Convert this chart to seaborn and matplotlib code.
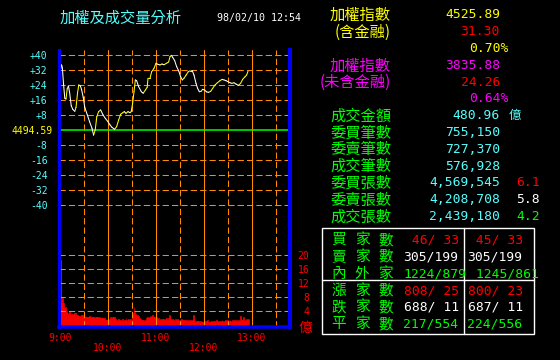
import numpy as np
import pandas as pd
import matplotlib
matplotlib.use("Agg")
import matplotlib.pyplot as plt
import matplotlib.transforms as mtransforms
from matplotlib.patches import Rectangle
from matplotlib.lines import Line2D
import seaborn as sns

# ---------------- data ----------------
# intraday index change vs. previous close (points), minutes after 9:00
price_t = [0, 2, 3, 4.5, 6, 7.5, 9, 10.5, 12, 14,
           16, 18.5, 20, 22, 23.5, 25.5, 27, 29, 31, 34.2,
           37, 40, 42, 44, 46, 48.3, 50.8, 53.8, 56.7, 60,
           62.5, 65, 68.3, 70.8, 73.3, 75.8, 78.3, 80.4, 82.5, 85,
           87.5, 89, 90.8, 92.5, 94.2, 95.8, 98.3, 101.7, 104, 106.7,
           109, 110, 112.5, 114.6, 117.5, 120, 122.5, 125, 127.5, 130,
           133.3, 135.8, 137.5, 139.2, 140.8, 143.3, 145.8, 148.3, 150.8, 152.9,
           155, 157.5, 160.4, 162.5, 165.4, 167.5, 170, 172, 174.2, 176.3,
           178.3, 180.8, 183.3, 185.8, 188.3, 190.8, 193.8, 196.7, 200, 202.5,
           205, 207.5, 210, 212.5, 215, 217.5, 220, 223, 225.8, 228.3,
           231.3, 233.3, 235]
price_v = [31, 34.7, 33, 24, 17, 16.5, 22, 23.5, 20, 13,
           11, 10, 12, 20, 24, 23.5, 21.5, 17.5, 12, 8,
           4.4, 0.9, -2.7, 0, 7.1, 9.8, 10.7, 8, 6.2, 4.4,
           2.7, 1.4, 0.4, 1.8, 5.3, 8.4, 9.2, 9.8, 8.9, 9.8,
           9.2, 9.8, 14.2, 20.4, 26.7, 26.3, 23.1, 20.4, 19.6, 21.3,
           22.8, 27.6, 27.6, 31.1, 32.9, 35.6, 35, 34.7, 35.2, 34.8,
           35.6, 36.3, 39.1, 39.8, 38.8, 37, 33.8, 31.6, 28.4, 26.7,
           27.6, 29.2, 31.1, 31.6, 31.6, 29.3, 24.9, 22.2, 20.4, 20.6,
           21.7, 21.3, 20.3, 20.1, 20.6, 22.2, 24, 25.2, 26.3, 27,
           26.7, 26.3, 25.8, 25.2, 24.9, 25.2, 24.5, 23.8, 24.9, 27,
           28.4, 29.3, 31.3]

# per-minute turnover (億), one value per minute starting 9:00
vol = [18.5, 6.2, 7.7, 7.7, 6.2, 4.9, 5.2, 4.3, 4.1, 3.4,
       3.2, 3.8, 3.4, 3.0, 3.2, 3.1, 3.0, 3.4, 3.3, 3.4,
       2.9, 2.8, 3.0, 2.6, 2.5, 2.7, 2.9, 2.8, 3.0, 2.4,
       2.4, 2.3, 2.5, 2.3, 2.4, 2.2, 2.5, 2.3, 2.2, 2.4,
       2.3, 2.2, 2.4, 2.1, 2.3, 2.2, 2.4, 2.2, 2.1, 2.3,
       2.1, 2.0, 2.2, 2.1, 1.9, 2.1, 1.5, 1.6, 1.4, 1.5,
       1.6, 1.3, 0.0, 2.2, 2.1, 2.3, 2.2, 2.0, 2.2, 1.8,
       1.4, 1.2, 1.6, 1.8, 1.3, 1.5, 1.1, 1.4, 1.7, 1.2,
       1.5, 1.3, 2.0, 1.2, 1.4, 1.8, 1.3, 1.1, 1.6, 1.5,
       3.0, 3.4, 5.2, 3.6, 3.2, 2.8, 3.0, 2.4, 2.6, 2.0,
       1.8, 1.4, 1.2, 1.5, 1.3, 1.1, 1.4, 1.2, 1.9, 2.2,
       2.0, 2.4, 2.6, 2.2, 2.5, 2.8, 2.3, 2.6, 2.4, 2.0,
       2.2, 1.8, 1.6, 1.9, 1.4, 1.7, 1.5, 1.2, 1.8, 1.6,
       1.3, 1.7, 1.5, 1.9, 1.4, 2.0, 2.9, 2.6, 1.8, 1.5,
       1.6, 1.3, 1.5, 1.2, 1.6, 1.4, 1.7, 1.3, 1.5, 1.2,
       1.4, 1.6, 1.2, 1.5, 1.3, 1.4, 1.1, 1.5, 1.3, 1.2,
       1.4, 1.2, 1.5, 1.3, 1.1, 1.4, 2.9, 1.6, 1.2, 1.0,
       1.1, 1.2, 0.9, 1.1, 1.0, 1.2, 0.9, 1.1, 1.0, 0.8,
       1.0, 1.2, 0.9, 1.1, 1.3, 1.0, 0.9, 1.2, 1.0, 1.1,
       0.9, 1.2, 1.0, 1.1, 0.9, 1.3, 1.0, 1.2, 1.1, 0.9,
       1.2, 1.0, 1.3, 1.1, 0.9, 1.2, 1.4, 1.0, 1.1, 1.3,
       1.0, 1.2, 1.4, 1.1, 1.0, 1.3, 1.2, 0.9, 1.4, 1.1,
       1.3, 1.0, 1.2, 1.4, 1.1, 2.6, 1.3, 1.0, 1.4, 2.2,
       1.5, 1.2, 1.4, 1.8, 1.3, 1.6]
vol_minute = list(range(len(vol)))

price_ticks = [40, 32, 24, 16, 8, 0, -8, -16, -24, -32, -40]
price_tick_labels = ['+40', '+32', '+24', '+16', '+8', '4494.59',
                     '-8', '-16', '-24', '-32', '-40']
vol_ticks = [20, 16, 12, 8, 4]
vol_tick_labels = ['20', '16', '12', '8', '4']
hour_ticks = [0, 60, 120, 180, 240]
hour_labels = ['9:00', '10:00', '11:00', '12:00', '13:00']
half_hour_ticks = [30, 90, 150, 210, 270]

title = '加權及成交量分析'
stamp = '98/02/10 12:54'

info_labels = ['加權指數', '(含金融)', '', '加權指數', '(未含金融)', '',
               '成交金額', '委買筆數', '委賣筆數', '成交筆數',
               '委買張數', '委賣張數', '成交張數']
info_values = ['4525.89', '31.30', '0.70%', '3835.88', '24.26', '0.64%',
               '480.96', '755,150', '727,370', '576,928',
               '4,569,545', '4,208,708', '2,439,180']
info_ratios = ['', '', '', '', '', '', '', '', '', '', '6.1', '5.8', '4.2']

table_labels = ['買家數', '賣家數', '內外家', '漲家數', '跌家數', '平家數']
table_col1 = [' 46/ 33', '305/199', '1224/879', '808/ 25', '688/ 11', '217/554']
table_col2 = [' 45/ 33', '305/199', ' 1245/861', '800/ 23', '687/ 11', '224/556']

# ---------------- style ----------------
YEL, WHT, RED, MAG = '#ffff00', '#ffffff', '#ff0000', '#ff00ff'
GRN, CYN, ORG, BLU = '#00ff00', '#55ffff', '#ff8c00', '#0000ff'

sns.set_style('dark', {'axes.facecolor': 'black', 'figure.facecolor': 'black'})
plt.rcParams['font.family'] = ['DejaVu Sans Mono']
CJK = ['Noto Sans CJK TC', 'DejaVu Sans']
MONO = ['DejaVu Sans Mono']

W, H = 560, 360
fig = plt.figure(figsize=(W / 100, H / 100), dpi=100, facecolor='black')
PX = mtransforms.Affine2D().scale(1 / W, -1 / H).translate(0, 1) + fig.transFigure

L, R, T, B = 58.5, 290.0, 50.0, 327.0
ax_v = fig.add_axes([L / W, 1 - B / H, (R - L) / W, (B - T) / H])
ax_v.set_facecolor('black')
ax_p = ax_v.twinx()
ax_p.patch.set_visible(False)

# x scale: 0.8 px per minute, 9:00 at x=60
x0 = (L - 60) / 0.8
x1 = (R - 60) / 0.8
# price scale: 0 at y=130, 15 px per 8 points
p_lo = (130 - B) / 1.875
p_hi = (130 - T) / 1.875
# volume scale: 0 at y=325, 3.5 px per unit
v_lo = (325 - B) / 3.5
v_hi = (325 - T) / 3.5

# volume bars: each bar covers its minute [m, m+1)
bar_centre = [m + 0.5 for m in vol_minute]
sns.barplot(x=bar_centre, y=vol, native_scale=True, width=1.0, color=RED,
            saturation=1, linewidth=0.45, edgecolor=RED, errorbar=None,
            ax=ax_v, zorder=1)

lw1 = 0.75
dash = (0, (6, 3))
for t in hour_ticks:
    ax_v.axvline(t, color=ORG, lw=lw1, zorder=3)
for t in half_hour_ticks:
    ax_v.axvline(t, color=ORG, lw=lw1, ls=dash, zorder=3)
for v in vol_ticks:
    ax_v.axhline(v, color=ORG, lw=lw1, ls=dash, zorder=3)

for v in price_ticks:
    if v == 0:
        ax_p.axhline(v, color=GRN, lw=1.1, zorder=2)
    else:
        ax_p.axhline(v, color=ORG, lw=lw1, ls=dash, zorder=2)

# price line: yellow when rising, white when falling
rows = []
for i in range(len(price_t) - 1):
    d = 'up' if price_v[i + 1] >= price_v[i] else 'down'
    rows.append((price_t[i], price_v[i], i, d))
    rows.append((price_t[i + 1], price_v[i + 1], i, d))
seg = pd.DataFrame(rows, columns=['t', 'v', 'seg', 'dir'])
sns.lineplot(data=seg, x='t', y='v', hue='dir', units='seg', estimator=None,
             palette={'up': YEL, 'down': WHT}, legend=False, sort=False,
             lw=lw1, ax=ax_p, zorder=4)

for a in (ax_v, ax_p):
    a.set_xlim(x0, x1)
    a.set_xlabel('')
    a.set_ylabel('')
    a.set_xticks([])
    a.set_yticks([])
    a.grid(False)
ax_v.set_ylim(v_lo, v_hi)
ax_p.set_ylim(p_lo, p_hi)

for s in ax_v.spines.values():
    s.set_visible(False)
ax_p.spines['top'].set_visible(False)
ax_p.spines['left'].set_color(BLU)
ax_p.spines['left'].set_linewidth(3 * 0.72)
ax_p.spines['right'].set_color(BLU)
ax_p.spines['right'].set_linewidth(4 * 0.72)
ax_p.spines['bottom'].set_color(BLU)
ax_p.spines['bottom'].set_linewidth(3.5 * 0.72)
for s in ax_p.spines.values():
    s.set_zorder(10)

# axis labels as text
tr_py = mtransforms.blended_transform_factory(PX, ax_p.transData)
for v, lab in zip(price_ticks, price_tick_labels):
    if v == 0:
        ax_p.text(52.5, v, lab, transform=tr_py, ha='right', va='center_baseline',
                  color=YEL, fontsize=7, family=MONO, clip_on=False)
    else:
        ax_p.text(47.5, v, lab, transform=tr_py, ha='right', va='center_baseline',
                  color=CYN, fontsize=7, family=MONO, clip_on=False)

tr_vy = mtransforms.blended_transform_factory(PX, ax_v.transData)
for v, lab in zip(vol_ticks, vol_tick_labels):
    ax_v.text(309.5, v, lab, transform=tr_vy, ha='right', va='center_baseline',
              color=RED, fontsize=7, family=MONO, clip_on=False)
fig.text(305.5, 326.7, '億', transform=PX, ha='center', va='center_baseline',
         color=RED, fontsize=10, family=CJK)

tr_tx = mtransforms.blended_transform_factory(ax_v.transData, PX)
for k, (t, lab) in enumerate(zip(hour_ticks, hour_labels)):
    yy = 336.7 if k % 2 == 0 else 346.7
    ax_v.text(t, yy, lab, transform=tr_tx, ha='center', va='center_baseline',
              color=RED, fontsize=7, family=MONO, clip_on=False)

# title
fig.text(60, 16.7, title, transform=PX, ha='left', va='center_baseline',
         color=CYN, fontsize=11, family=CJK)
fig.text(217, 16.7, stamp, transform=PX, ha='left', va='center_baseline',
         color=WHT, fontsize=7.2, family=MONO)

# right information panel
label_colors = [YEL, YEL, YEL, MAG, MAG, MAG] + [GRN] * 7
value_colors = [YEL, RED, YEL, MAG, RED, MAG] + [CYN] * 7
ratio_colors = {'6.1': RED, '5.8': WHT, '4.2': GRN}
for k in range(len(info_values)):
    y = 13.5 + 16.8 * k
    if info_labels[k]:
        fig.text(391, y, info_labels[k], transform=PX, ha='right',
                 va='center_baseline', color=label_colors[k], fontsize=11, family=CJK)
    xr = 508 if info_values[k].endswith('%') else 500
    fig.text(xr, y, info_values[k], transform=PX, ha='right',
             va='center_baseline', color=value_colors[k], fontsize=9.4, family=MONO)
    if info_ratios[k]:
        fig.text(540, y, info_ratios[k], transform=PX, ha='right',
                 va='center_baseline', color=ratio_colors[info_ratios[k]],
                 fontsize=9.4, family=MONO)
fig.text(515, 13.5 + 16.8 * 6, '億', transform=PX, ha='center',
         va='center_baseline', color=CYN, fontsize=9, family=CJK)

# breadth table
fig.add_artist(Rectangle((321.5, 227.5), 212, 106, transform=PX, fill=False,
                         ec=WHT, lw=1.0))
fig.add_artist(Line2D([463.7, 463.7], [227.5, 333.5], transform=PX, color=WHT, lw=1.0))
fig.add_artist(Line2D([321.5, 533.5], [280.3, 280.3], transform=PX, color=WHT, lw=1.0))
row_colors = [RED, WHT, GRN, RED, WHT, GRN]
for k in range(len(table_labels)):
    y = 238.5 + 16.85 * k
    for j, ch in enumerate(table_labels[k]):
        fig.text(338.5 + 23.5 * j, y, ch, transform=PX, ha='center',
                 va='center_baseline', color=GRN, fontsize=10.5, family=CJK)
    fig.text(403.5, y, table_col1[k], transform=PX, ha='left',
             va='center_baseline', color=row_colors[k], fontsize=9.4, family=MONO)
    fig.text(467.5, y, table_col2[k], transform=PX, ha='left',
             va='center_baseline', color=row_colors[k], fontsize=9.4, family=MONO)

fig.savefig('out.png', dpi=100, facecolor='black')
